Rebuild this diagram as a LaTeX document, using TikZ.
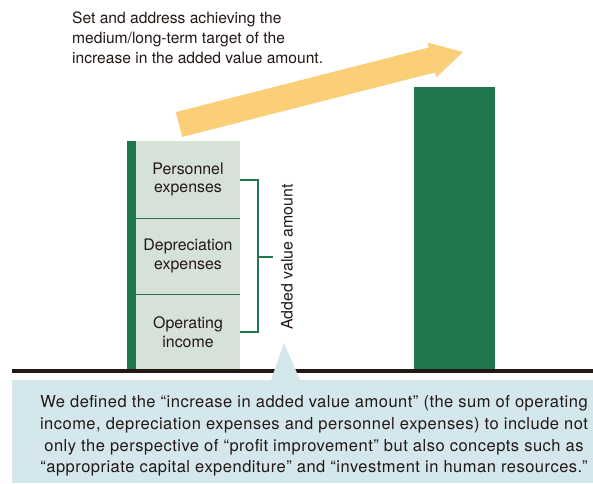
\documentclass[tikz,border=0pt]{standalone}
\usepackage{fontspec}
\setmainfont{TeX Gyre Heros}
\usepackage{tikz}
\definecolor{barGreen}{RGB}{32,119,76}
\definecolor{boxGreen}{RGB}{214,226,216}
\definecolor{arrowYellow}{RGB}{251,206,120}
\definecolor{calloutBlue}{RGB}{211,231,236}
\definecolor{inkColor}{RGB}{35,24,21}
\newfontfamily\widefont[LetterSpace=3]{TeX Gyre Heros}
\newcommand{\labelfont}{\fontsize{15.9}{18.7}\selectfont}
\newcommand{\goalfont}{\fontsize{15.6}{19.6}\selectfont}
\newcommand{\notefont}{\widefont\fontsize{16.5}{21.7}\selectfont}

\begin{document}
\begin{tikzpicture}[x=1pt, y=-1pt,
  every node/.style={text=inkColor, font=\labelfont},
  valuebox/.style={fill=boxGreen, minimum width=104pt, inner sep=0pt, align=center},
  bracket/.style={barGreen, line width=2pt}]
\useasboundingbox (0,0) rectangle (593,483);

% goal text and arrow
\node[anchor=north west, align=left, inner sep=0pt, font=\goalfont] (goal) at (72,12)
  {Set and address achieving the\\medium/long-term target of the\\increase in the added value amount.};

\coordinate (arrowTail) at (179,124.5);
\begin{scope}[shift={(arrowTail)}, rotate=14.32]
\fill[arrowYellow] (0,-12.85) -- (261,-12.85) -- (261,-18) -- (293,0)
  -- (261,18) -- (261,12.85) -- (0,12.85) -- cycle;
\end{scope}

% current added value
\fill[barGreen] (127,141) rectangle (136,370);
\node[valuebox, minimum height=77pt] (personnel) at (188,179.5) {Personnel\\expenses};
\node[valuebox, minimum height=76pt] (depreciation) at (188,256) {Depreciation\\expenses};
\node[valuebox, minimum height=76pt] (operating) at (188,332) {Operating\\income};

\draw[barGreen, line width=1.2pt] (personnel.south west) -- (personnel.south east);
\draw[barGreen, line width=1.2pt] (depreciation.south west) -- (depreciation.south east);

\coordinate (brace) at (258,257);
\coordinate (braceTip) at (273,257);
\draw[bracket] (personnel.east) -- (personnel.east -| brace) -- (operating.east -| brace) -- (operating.east);
\draw[bracket] (brace) -- (braceTip);
\node[rotate=90] (addedlabel) at (287,257) {Added value amount};

% target
\node[fill=barGreen, minimum width=81pt, minimum height=283pt, inner sep=0pt] (target) at (454.5,228.5) {};

% ground line
\coordinate (groundL) at (12,371);
\coordinate (groundR) at (593,371);
\draw[inkColor, line width=3.5pt] (groundL) -- (groundR);

% callout
\fill[calloutBlue] (12,380) rectangle (593,483);
\fill[calloutBlue] (271,380) -- (284,343) -- (300,380) -- cycle;
\node[align=center, font=\notefont] (note) at (314,436)
  {We defined the “increase in added value amount” (the sum of operating\\
   income, depreciation expenses and personnel expenses) to include not\\
   only the perspective of “profit improvement” but also concepts such as\\
   “appropriate capital expenditure” and “investment in human resources.”};

\end{tikzpicture}
\end{document}
